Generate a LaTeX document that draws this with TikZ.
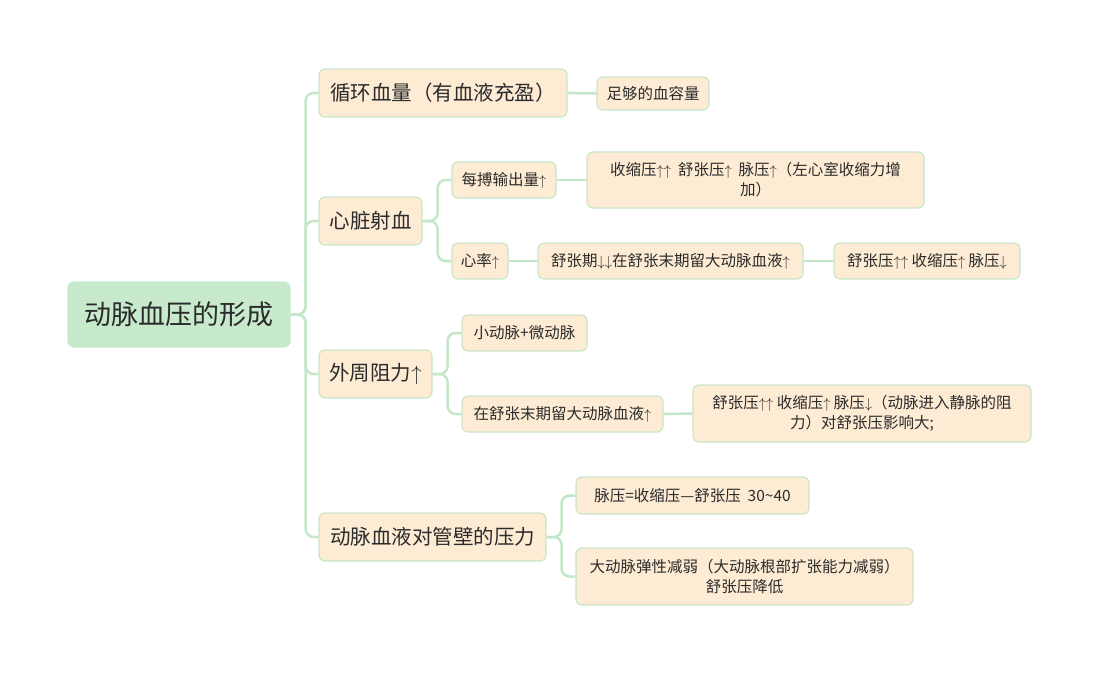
\documentclass[tikz,border=0pt]{standalone}
\usepackage{fontspec}
\setmainfont{Noto Sans CJK SC}
\definecolor{peach}{HTML}{FDEBD4}
\definecolor{bord}{HTML}{C8E6C9}
\definecolor{rootfill}{HTML}{C6EACB}
\definecolor{linec}{HTML}{C4E7C8}
\definecolor{txt}{HTML}{2B2B2B}
\newcommand\ua{\ensuremath{\uparrow}}
\newcommand\da{\ensuremath{\downarrow}}
\begin{document}
\begin{tikzpicture}[x=1pt,y=-1pt,
 box/.style={draw=bord, line width=1.2pt, fill=peach, rounded corners=6pt, text=txt, inner sep=0pt, align=center},
 lv1/.style={box, font=\fontsize{20.5}{24}\selectfont},
 lv2/.style={box, font=\fontsize{15.5}{20}\selectfont},
 rootbox/.style={box, fill=rootfill, draw=rootfill, font=\fontsize{27}{31}\selectfont},
 conn/.style={draw=linec, line width=2.5pt, rounded corners=8pt}]
\useasboundingbox (0,0) rectangle (1100,675);
\node[rootbox, minimum width=222pt, minimum height=65pt] (root) at (179,314.5) {动脉血压的形成};
% level 1
\node[lv1, minimum width=248pt, minimum height=48pt] (n1) at (443,93) {循环血量（有血液充盈）};
\node[lv1, minimum width=103pt, minimum height=48pt] (n2) at (370.5,221) {心脏射血};
\node[lv1, minimum width=113pt, minimum height=48pt] (n3) at (375.5,374) {外周阻力\ua};
\node[lv1, minimum width=227pt, minimum height=48pt] (n4) at (432.5,537) {动脉血液对管壁的压力};
% level 2+
\node[lv2, minimum width=112pt, minimum height=33pt] (n1a) at (653,93.5) {足够的血容量};
\node[lv2, minimum width=104pt, minimum height=36pt] (n2a) at (504,180) {每搏输出量\ua};
\node[lv2, minimum width=337pt, minimum height=56pt] (n2a1) at (755.5,180) {收缩压\ua\ua~~舒张压\ua~~脉压\ua（左心室收缩力增\\加）};
\node[lv2, minimum width=56pt, minimum height=36pt] (n2b) at (480,261) {心率\ua};
\node[lv2, minimum width=265pt, minimum height=36pt] (n2b1) at (670.5,261) {舒张期\da\da 在舒张末期留大动脉血液\ua};
\node[lv2, minimum width=186pt, minimum height=36pt] (n2b2) at (927,261) {舒张压\ua\ua~收缩压\ua~脉压\da};
\node[lv2, minimum width=125pt, minimum height=36pt] (n3a) at (524.5,333) {小动脉+微动脉};
\node[lv2, minimum width=201pt, minimum height=36pt] (n3b) at (562.5,414) {在舒张末期留大动脉血液\ua};
\node[lv2, minimum width=338pt, minimum height=57pt] (n3b1) at (862,413.5) {舒张压\ua\ua~收缩压\ua~脉压\da（动脉进入静脉的阻\\力）对舒张压影响大;};
\node[lv2, minimum width=233pt, minimum height=37pt] (n4a) at (692.5,495.5) {脉压=收缩压—舒张压~~30\textasciitilde40};
\node[lv2, minimum width=337pt, minimum height=57pt] (n4b) at (744.5,576.5) {大动脉弹性减弱（大动脉根部扩张能力减弱）\\舒张压降低};
% connectors
\foreach \c in {n1,n2,n3,n4} \draw[conn] (root.east) -- ++(15,0) |- (\c.west);
\draw[conn] (n1.east) -- (n1a.west);
\foreach \c in {n2a,n2b} \draw[conn] (n2.east) -- ++(15,0) |- (\c.west);
\draw[conn] (n2a.east) -- (n2a1.west);
\draw[conn] (n2b.east) -- (n2b1.west);
\draw[conn] (n2b1.east) -- (n2b2.west);
\foreach \c in {n3a,n3b} \draw[conn] (n3.east) -- ++(15,0) |- (\c.west);
\draw[conn] (n3b.east) -- (n3b1.west);
\foreach \c in {n4a,n4b} \draw[conn] (n4.east) -- ++(15,0) |- (\c.west);
\end{tikzpicture}
\end{document}
